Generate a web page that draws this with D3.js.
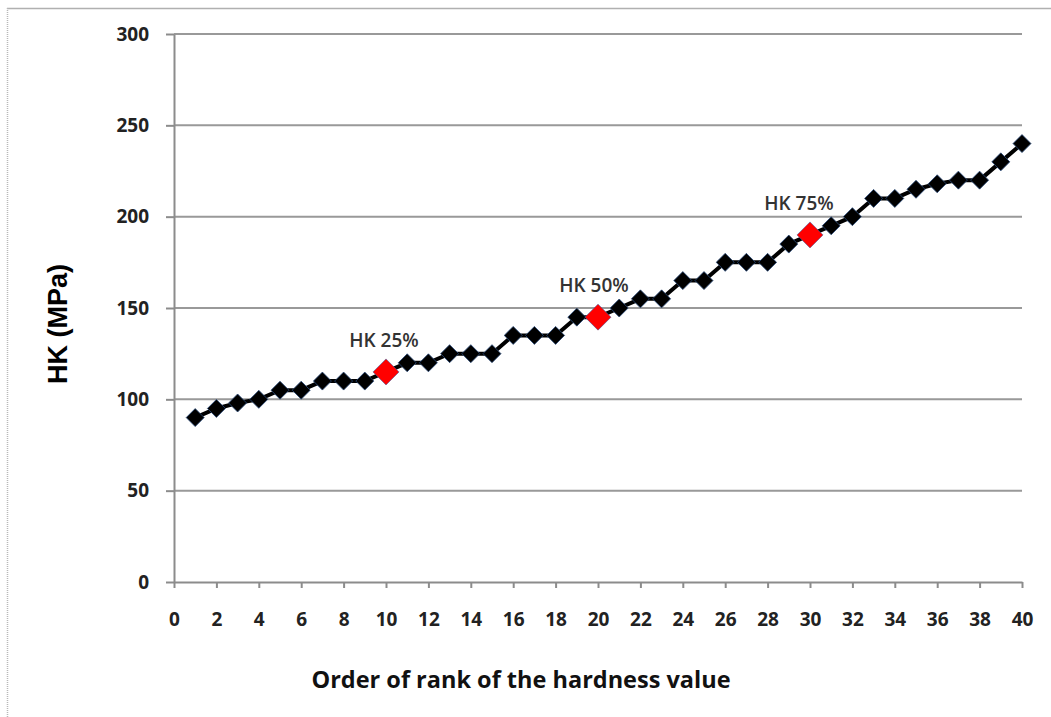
<!DOCTYPE html>
<html>
<head>
<meta charset="utf-8">
<script src="https://cdn.jsdelivr.net/npm/d3@7"></script>
<style>
  html, body { margin: 0; padding: 0; background: #fff; }
  svg { display: block; }
</style>
</head>
<body>
<svg id="chart" width="1051" height="717"></svg>
<script>
// ---- data ----
const ranks = d3.range(1, 41);
const hardness = [90, 95, 98, 100, 105, 105, 110, 110, 110, 115,
                  120, 120, 125, 125, 125, 135, 135, 135, 145, 145,
                  150, 155, 155, 165, 165, 175, 175, 175, 185, 190,
                  195, 200, 210, 210, 215, 218, 220, 220, 230, 240];
const quartileRanks = [10, 20, 30];
const quartileLabels = ["HK 25%", "HK 50%", "HK 75%"];
const xTicks = d3.range(0, 41, 2);
const yTicks = [0, 50, 100, 150, 200, 250, 300];
const xTitle = "Order of rank of the hardness value";
const yTitle = "HK (MPa)";

// ---- layout ----
const svg = d3.select("#chart");
const x = d3.scaleLinear().domain([0, 40]).range([174, 1022]);
const y = d3.scaleLinear().domain([0, 300]).range([582, 34]);
const gridColor = "#999";
const axisColor = "#8c8c8c";
const font = "'Open Sans', 'DejaVu Sans', sans-serif";

// frame
svg.append("line").attr("x1", 7).attr("x2", 1051).attr("y1", 8.5).attr("y2", 8.5)
  .attr("stroke", "#b0b0b0").attr("stroke-width", 1.5);
svg.append("line").attr("x1", 7.5).attr("x2", 7.5).attr("y1", 8).attr("y2", 717)
  .attr("stroke", "#b8b8b8").attr("stroke-width", 1.5).attr("stroke-dasharray", "1,1");

// grid lines
svg.append("g").selectAll("line").data(yTicks.filter(d => d > 0)).join("line")
  .attr("x1", x(0)).attr("x2", x(40))
  .attr("y1", d => y(d)).attr("y2", d => y(d))
  .attr("stroke", gridColor).attr("stroke-width", 2);

// y axis
const yAxis = svg.append("g").attr("transform", `translate(${x(0)},0)`)
  .call(d3.axisLeft(y).tickValues(yTicks).tickSize(8).tickPadding(17).tickSizeOuter(0));
yAxis.select(".domain").attr("stroke", axisColor).attr("stroke-width", 2);
yAxis.selectAll(".tick line").attr("stroke", axisColor).attr("stroke-width", 2);
yAxis.selectAll(".tick text").attr("fill", "#222").attr("font-family", font)
  .attr("font-size", 19).attr("font-weight", "bold");

// x axis
const xAxis = svg.append("g").attr("transform", `translate(0,${y(0)})`)
  .call(d3.axisBottom(x).tickValues(xTicks).tickSize(6).tickPadding(25).tickSizeOuter(0));
xAxis.select(".domain").attr("stroke", axisColor).attr("stroke-width", 2);
xAxis.selectAll(".tick line").attr("stroke", axisColor).attr("stroke-width", 2);
xAxis.selectAll(".tick text").attr("fill", "#222").attr("font-family", font)
  .attr("font-size", 19).attr("font-weight", "bold");

// line
const pts = ranks.map((r, i) => ({r, v: hardness[i]}));
svg.append("path").datum(pts)
  .attr("fill", "none").attr("stroke", "#000").attr("stroke-width", 4)
  .attr("d", d3.line().x(d => x(d.r)).y(d => y(d.v)));

function diamond(h) { return `M0,${-h}L${h},0L0,${h}L${-h},0Z`; }

// black markers
svg.append("g").selectAll("path").data(pts.filter(d => !quartileRanks.includes(d.r))).join("path")
  .attr("transform", d => `translate(${x(d.r)},${y(d.v)})`)
  .attr("d", diamond(9))
  .attr("fill", "#000").attr("stroke", "#2a4a7a").attr("stroke-width", 0.8);

// red markers
const qpts = quartileRanks.map((r, i) => ({r, v: hardness[r - 1], label: quartileLabels[i]}));
svg.append("g").selectAll("path").data(qpts).join("path")
  .attr("transform", d => `translate(${x(d.r)},${y(d.v)})`)
  .attr("d", diamond(13))
  .attr("fill", "#ff0000").attr("stroke", "#4a5a9a").attr("stroke-width", 0.6);

// quartile labels
const labelDx = [-2, -4, -11];
svg.append("g").selectAll("text").data(qpts).join("text")
  .attr("x", (d, i) => x(d.r) + labelDx[i])
  .attr("y", d => y(d.v) - 25)
  .attr("text-anchor", "middle")
  .attr("font-family", font).attr("font-size", 19).attr("font-weight", 600)
  .attr("fill", "#333")
  .text(d => d.label);

// axis titles
svg.append("text")
  .attr("x", 521).attr("y", 688)
  .attr("text-anchor", "middle")
  .attr("font-family", font).attr("font-size", 23.5).attr("font-weight", "bold")
  .attr("fill", "#111")
  .text(xTitle);

svg.append("text")
  .attr("transform", "translate(67,324) rotate(-90)")
  .attr("text-anchor", "middle")
  .attr("font-family", "'Liberation Sans', Arial, sans-serif").attr("font-size", 27).attr("font-weight", "bold")
  .attr("fill", "#000")
  .text(yTitle);
</script>
</body>
</html>
